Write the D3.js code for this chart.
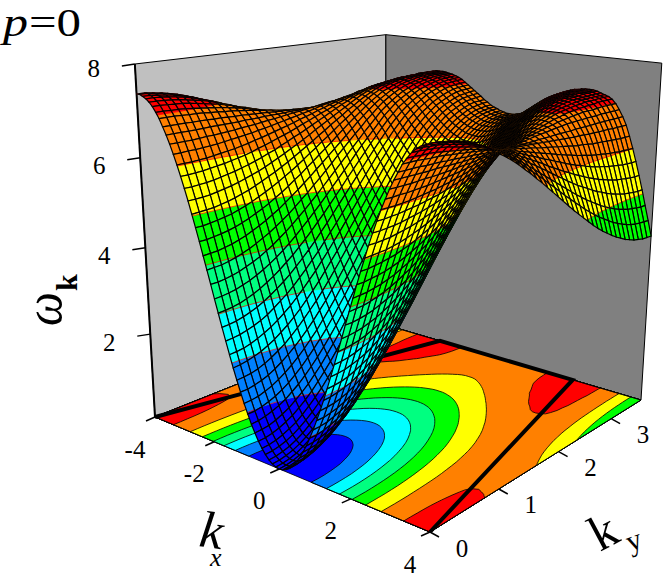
<!DOCTYPE html>
<html><head><meta charset="utf-8">
<script src="https://cdnjs.cloudflare.com/ajax/libs/d3/7.8.5/d3.min.js"></script>
<style>html,body{margin:0;padding:0;background:#fff}svg{display:block}text{font-family:"Liberation Serif",serif;fill:#000}</style>
</head><body><svg id="c" width="664" height="577"></svg>
<script>
// Height of the surface, one list per kx = 0, 0.1, ... 4 (the picture is mirror-symmetric in kx);
// each list runs over ky = 0 ... 3.63 in 40 steps.
const omegaByKx = [
[0,.01,.04,.09,.16,.25,.36,.49,.64,.80,.98,1.17,1.38,1.60,1.82,2.06,2.31,2.56,2.82,3.08,3.34,3.60,3.86,4.12,4.37,4.62,4.86,5.09,5.29,5.48,5.65,5.80,5.94,6.05,6.15,6.23,6.29,6.34,6.37,6.39,6.40],
[.01,.02,.05,.10,.18,.27,.38,.50,.65,.81,.99,1.18,1.39,1.61,1.83,2.07,2.32,2.57,2.83,3.09,3.35,3.61,3.87,4.13,4.38,4.63,4.86,5.09,5.30,5.49,5.66,5.81,5.94,6.05,6.15,6.23,6.29,6.34,6.37,6.39,6.40],
[.05,.06,.09,.14,.21,.30,.41,.54,.69,.85,1.02,1.22,1.42,1.64,1.86,2.10,2.35,2.60,2.85,3.11,3.37,3.63,3.89,4.15,4.40,4.65,4.88,5.11,5.32,5.51,5.67,5.82,5.95,6.07,6.16,6.24,6.30,6.35,6.39,6.41,6.42],
[.11,.12,.15,.20,.27,.36,.47,.60,.74,.90,1.08,1.27,1.47,1.69,1.92,2.15,2.39,2.64,2.90,3.16,3.42,3.67,3.93,4.19,4.44,4.68,4.92,5.14,5.35,5.54,5.70,5.85,5.98,6.09,6.19,6.27,6.33,6.38,6.41,6.43,6.44],
[.20,.21,.24,.29,.36,.45,.56,.68,.82,.98,1.16,1.35,1.55,1.76,1.99,2.22,2.46,2.71,2.96,3.22,3.47,3.73,3.98,4.24,4.48,4.73,4.96,5.18,5.39,5.58,5.74,5.89,6.02,6.13,6.22,6.31,6.37,6.42,6.45,6.47,6.48],
[.31,.32,.35,.40,.47,.55,.66,.79,.93,1.08,1.26,1.44,1.64,1.85,2.08,2.31,2.54,2.79,3.04,3.29,3.54,3.80,4.05,4.30,4.54,4.78,5.01,5.24,5.44,5.63,5.78,5.94,6.06,6.17,6.26,6.34,6.40,6.45,6.48,6.50,6.51],
[.44,.45,.48,.53,.60,.68,.79,.91,1.05,1.21,1.38,1.56,1.76,1.97,2.18,2.41,2.65,2.89,3.13,3.38,3.63,3.88,4.13,4.38,4.62,4.85,5.08,5.30,5.50,5.68,5.84,5.99,6.11,6.22,6.31,6.39,6.45,6.50,6.52,6.54,6.55],
[.60,.61,.63,.68,.75,.83,.94,1.06,1.19,1.35,1.51,1.70,1.89,2.09,2.31,2.53,2.76,3.00,3.24,3.49,3.73,3.98,4.22,4.47,4.70,4.93,5.16,5.37,5.57,5.75,5.91,6.05,6.17,6.28,6.37,6.44,6.51,6.55,6.58,6.60,6.61],
[.77,.78,.81,.86,.92,1.00,1.11,1.22,1.36,1.51,1.67,1.85,2.04,2.24,2.45,2.67,2.90,3.13,3.37,3.61,3.85,4.09,4.33,4.57,4.80,5.02,5.24,5.45,5.65,5.83,5.98,6.12,6.24,6.34,6.43,6.50,6.56,6.61,6.64,6.65,6.66],
[.97,.97,1.00,1.05,1.11,1.19,1.29,1.41,1.54,1.69,1.85,2.02,2.20,2.40,2.61,2.82,3.04,3.27,3.50,3.74,3.97,4.21,4.44,4.67,4.90,5.12,5.34,5.54,5.73,5.91,6.06,6.19,6.31,6.42,6.50,6.57,6.63,6.68,6.70,6.72,6.73],
[1.18,1.19,1.21,1.26,1.32,1.40,1.50,1.61,1.74,1.88,2.04,2.20,2.39,2.58,2.78,2.99,3.20,3.42,3.65,3.88,4.11,4.34,4.57,4.79,5.01,5.23,5.44,5.64,5.82,5.99,6.14,6.27,6.38,6.49,6.57,6.64,6.70,6.74,6.76,6.78,6.79],
[1.41,1.41,1.44,1.48,1.54,1.62,1.72,1.83,1.95,2.09,2.24,2.40,2.58,2.76,2.96,3.16,3.37,3.59,3.81,4.03,4.25,4.48,4.70,4.92,5.13,5.34,5.55,5.74,5.92,6.08,6.23,6.35,6.46,6.56,6.64,6.70,6.76,6.80,6.82,6.84,6.85],
[1.65,1.66,1.68,1.72,1.78,1.86,1.95,2.05,2.18,2.31,2.46,2.62,2.78,2.96,3.15,3.35,3.55,3.76,3.97,4.19,4.41,4.62,4.84,5.05,5.26,5.46,5.66,5.85,6.02,6.18,6.31,6.43,6.54,6.64,6.71,6.77,6.83,6.87,6.89,6.90,6.91],
[1.90,1.91,1.94,1.98,2.03,2.11,2.19,2.30,2.41,2.54,2.68,2.84,3.00,3.17,3.36,3.55,3.74,3.94,4.15,4.35,4.56,4.77,4.98,5.18,5.39,5.58,5.77,5.95,6.12,6.27,6.40,6.52,6.61,6.71,6.78,6.84,6.89,6.93,6.95,6.96,6.97],
[2.17,2.18,2.20,2.24,2.30,2.37,2.45,2.55,2.66,2.78,2.92,3.07,3.23,3.39,3.57,3.75,3.94,4.13,4.33,4.53,4.73,4.93,5.13,5.32,5.52,5.70,5.89,6.06,6.22,6.37,6.49,6.60,6.69,6.78,6.85,6.91,6.96,6.99,7.01,7.02,7.03],
[2.45,2.46,2.48,2.52,2.57,2.63,2.71,2.81,2.92,3.03,3.16,3.31,3.46,3.62,3.78,3.96,4.14,4.32,4.51,4.70,4.89,5.08,5.27,5.46,5.65,5.83,6.00,6.17,6.32,6.46,6.58,6.68,6.77,6.86,6.92,6.97,7.02,7.05,7.07,7.08,7.09],
[2.73,2.74,2.76,2.80,2.85,2.91,2.99,3.08,3.18,3.29,3.41,3.55,3.69,3.84,4.00,4.17,4.34,4.52,4.70,4.88,5.06,5.24,5.42,5.60,5.78,5.95,6.12,6.28,6.42,6.55,6.66,6.76,6.84,6.91,6.97,7.02,7.06,7.09,7.11,7.12,7.13],
[3.02,3.03,3.05,3.08,3.13,3.19,3.26,3.35,3.44,3.55,3.67,3.79,3.93,4.07,4.22,4.38,4.54,4.71,4.88,5.05,5.23,5.40,5.57,5.74,5.91,6.07,6.23,6.38,6.51,6.64,6.73,6.83,6.91,6.98,7.02,7.07,7.10,7.13,7.14,7.15,7.16],
[3.31,3.32,3.34,3.37,3.42,3.47,3.54,3.62,3.71,3.81,3.92,4.04,4.17,4.31,4.45,4.60,4.75,4.91,5.07,5.23,5.39,5.55,5.72,5.88,6.03,6.18,6.33,6.48,6.60,6.72,6.81,6.89,6.96,7.02,7.07,7.11,7.13,7.16,7.17,7.18,7.19],
[3.61,3.61,3.63,3.66,3.70,3.76,3.82,3.89,3.98,4.07,4.18,4.29,4.41,4.54,4.67,4.81,4.95,5.10,5.25,5.40,5.55,5.70,5.85,6.00,6.15,6.29,6.43,6.57,6.68,6.78,6.87,6.95,7.01,7.07,7.10,7.14,7.16,7.18,7.19,7.20,7.20],
[3.90,3.91,3.92,3.95,3.99,4.04,4.10,4.17,4.25,4.33,4.43,4.53,4.64,4.76,4.89,5.01,5.15,5.28,5.42,5.56,5.71,5.85,5.99,6.13,6.26,6.40,6.52,6.65,6.76,6.85,6.93,7.00,7.06,7.10,7.13,7.16,7.18,7.20,7.21,7.21,7.22],
[4.19,4.20,4.21,4.24,4.27,4.32,4.37,4.44,4.51,4.59,4.68,4.77,4.88,4.99,5.10,5.22,5.34,5.47,5.59,5.72,5.85,5.98,6.11,6.24,6.37,6.49,6.61,6.72,6.82,6.90,6.98,7.04,7.09,7.13,7.15,7.18,7.20,7.21,7.22,7.22,7.23],
[4.48,4.48,4.50,4.52,4.55,4.59,4.64,4.70,4.77,4.84,4.92,5.01,5.10,5.20,5.31,5.41,5.53,5.64,5.76,5.87,5.99,6.11,6.23,6.35,6.46,6.57,6.68,6.78,6.87,6.96,7.01,7.07,7.11,7.15,7.17,7.19,7.20,7.22,7.22,7.22,7.23],
[4.76,4.76,4.78,4.80,4.83,4.86,4.91,4.96,5.02,5.09,5.16,5.24,5.32,5.41,5.50,5.60,5.70,5.81,5.91,6.02,6.12,6.23,6.34,6.44,6.54,6.65,6.74,6.84,6.92,6.99,7.05,7.09,7.13,7.16,7.18,7.19,7.21,7.22,7.22,7.22,7.23],
[5.03,5.04,5.05,5.06,5.09,5.12,5.16,5.21,5.26,5.32,5.39,5.46,5.53,5.61,5.69,5.78,5.87,5.96,6.05,6.15,6.24,6.34,6.43,6.52,6.62,6.70,6.79,6.87,6.94,7.01,7.06,7.09,7.13,7.15,7.17,7.19,7.19,7.21,7.21,7.21,7.21],
[5.30,5.30,5.31,5.32,5.35,5.38,5.41,5.45,5.50,5.55,5.60,5.66,5.73,5.80,5.87,5.95,6.02,6.10,6.18,6.27,6.35,6.43,6.51,6.59,6.67,6.75,6.83,6.90,6.96,7.01,7.05,7.09,7.12,7.14,7.16,7.16,7.17,7.17,7.18,7.18,7.18],
[5.55,5.55,5.56,5.57,5.59,5.62,5.65,5.68,5.72,5.76,5.81,5.86,5.92,5.97,6.04,6.10,6.17,6.23,6.30,6.37,6.44,6.51,6.58,6.65,6.72,6.78,6.85,6.91,6.96,7.00,7.04,7.07,7.09,7.11,7.13,7.14,7.14,7.15,7.15,7.15,7.15],
[5.79,5.79,5.80,5.81,5.83,5.85,5.87,5.90,5.93,5.96,6.00,6.05,6.09,6.14,6.19,6.24,6.29,6.35,6.41,6.46,6.52,6.58,6.63,6.69,6.75,6.80,6.85,6.90,6.95,6.99,7.02,7.04,7.06,7.08,7.09,7.11,7.11,7.11,7.12,7.12,7.12],
[6.02,6.02,6.02,6.03,6.04,6.06,6.08,6.10,6.12,6.15,6.18,6.22,6.25,6.29,6.33,6.37,6.41,6.45,6.50,6.54,6.58,6.63,6.67,6.72,6.76,6.80,6.84,6.88,6.92,6.94,6.98,7.00,7.01,7.03,7.04,7.05,7.05,7.07,7.07,7.07,7.07],
[6.23,6.23,6.24,6.24,6.25,6.26,6.27,6.29,6.31,6.33,6.35,6.37,6.40,6.42,6.45,6.48,6.51,6.54,6.57,6.60,6.63,6.66,6.70,6.73,6.76,6.79,6.82,6.84,6.87,6.89,6.91,6.93,6.94,6.96,6.96,6.96,6.97,6.98,6.98,6.98,6.98],
[6.43,6.43,6.43,6.43,6.44,6.45,6.45,6.46,6.47,6.48,6.50,6.51,6.52,6.54,6.56,6.57,6.59,6.61,6.63,6.64,6.66,6.68,6.70,6.72,6.74,6.75,6.77,6.79,6.80,6.82,6.82,6.83,6.83,6.84,6.84,6.84,6.85,6.85,6.85,6.85,6.85],
[6.61,6.61,6.61,6.61,6.61,6.61,6.62,6.62,6.62,6.62,6.62,6.63,6.63,6.63,6.64,6.64,6.64,6.64,6.65,6.65,6.66,6.66,6.66,6.67,6.67,6.67,6.68,6.68,6.68,6.68,6.69,6.69,6.69,6.69,6.70,6.70,6.70,6.70,6.70,6.70,6.70],
[6.77,6.77,6.77,6.77,6.76,6.76,6.76,6.75,6.75,6.74,6.73,6.73,6.72,6.71,6.70,6.69,6.68,6.67,6.67,6.66,6.65,6.64,6.63,6.62,6.61,6.60,6.59,6.58,6.57,6.56,6.56,6.55,6.54,6.54,6.53,6.53,6.53,6.52,6.52,6.52,6.52],
[6.93,6.93,6.93,6.92,6.91,6.91,6.90,6.88,6.87,6.85,6.84,6.82,6.80,6.78,6.75,6.73,6.71,6.68,6.66,6.63,6.61,6.58,6.55,6.53,6.51,6.48,6.46,6.44,6.41,6.39,6.38,6.36,6.34,6.33,6.32,6.31,6.30,6.29,6.28,6.28,6.28],
[7.05,7.05,7.04,7.04,7.03,7.01,6.99,6.97,6.95,6.93,6.90,6.87,6.84,6.80,6.77,6.73,6.69,6.65,6.61,6.57,6.53,6.49,6.45,6.41,6.37,6.33,6.29,6.26,6.22,6.19,6.16,6.13,6.11,6.09,6.07,6.05,6.04,6.02,6.02,6.01,6.01],
[7.16,7.16,7.15,7.14,7.13,7.11,7.08,7.05,7.02,6.99,6.95,6.91,6.86,6.82,6.77,6.72,6.66,6.61,6.55,6.50,6.44,6.38,6.33,6.27,6.22,6.16,6.11,6.06,6.02,5.97,5.93,5.89,5.86,5.83,5.80,5.78,5.76,5.74,5.73,5.72,5.72],
[7.24,7.24,7.23,7.22,7.20,7.17,7.14,7.11,7.07,7.02,6.97,6.92,6.86,6.80,6.74,6.68,6.61,6.54,6.47,6.40,6.33,6.25,6.18,6.11,6.04,5.98,5.91,5.85,5.79,5.73,5.68,5.63,5.59,5.55,5.51,5.48,5.46,5.44,5.42,5.41,5.41],
[7.30,7.30,7.29,7.27,7.25,7.22,7.18,7.14,7.09,7.04,6.98,6.91,6.85,6.77,6.70,6.62,6.54,6.45,6.37,6.28,6.20,6.11,6.02,5.94,5.85,5.77,5.69,5.62,5.55,5.48,5.41,5.36,5.30,5.25,5.21,5.17,5.14,5.12,5.10,5.09,5.09],
[7.34,7.34,7.32,7.30,7.28,7.24,7.20,7.15,7.09,7.03,6.96,6.88,6.80,6.72,6.63,6.54,6.44,6.34,6.24,6.14,6.04,5.94,5.84,5.74,5.64,5.54,5.45,5.36,5.28,5.20,5.12,5.05,4.99,4.93,4.88,4.84,4.80,4.78,4.76,4.74,4.74],
[7.37,7.37,7.35,7.33,7.30,7.26,7.21,7.15,7.09,7.01,6.94,6.85,6.76,6.66,6.56,6.45,6.34,6.23,6.12,6.00,5.89,5.77,5.65,5.54,5.43,5.32,5.21,5.11,5.01,4.92,4.84,4.76,4.68,4.62,4.56,4.51,4.47,4.44,4.42,4.41,4.40],
[7.37,7.37,7.35,7.32,7.29,7.24,7.19,7.13,7.05,6.97,6.88,6.79,6.69,6.58,6.46,6.35,6.22,6.10,5.97,5.84,5.71,5.58,5.45,5.32,5.20,5.08,4.96,4.84,4.73,4.63,4.54,4.45,4.37,4.30,4.23,4.18,4.13,4.10,4.07,4.06,4.05]
];
const bandLevels = [1,2,3,4,5,6,7];
const bandColors = ["#0000ff","#0080ff","#00ffff","#00ff80","#00ff00","#ffff00","#ff8000","#ff0000"];
const kxTicks = [-4,-2,0,2,4];
const kyTicks = [0,1,2,3];
const zTicks = [2,4,6,8];
const kyMax = 3.63;
const zoneKx = [-4,-2.09,2.09,4];
const zoneKy = [0,kyMax,kyMax,0];

const svg = d3.select("#c");
const uScale = d3.scaleLinear([-4,4],[0,1]);
const vScale = d3.scaleLinear([0,kyMax],[0,1]);
const wScale = d3.scaleLinear([0,8],[0,1]);

// Perspective camera, calibrated on the box corners.
const A=[155,417],B=[430,532],C=[641,400],D=[386,325],Atop=[136,64],nadir=[388,4500];
const dx1=B[0]-C[0],dx2=D[0]-C[0],sx=A[0]-B[0]+C[0]-D[0];
const dy1=B[1]-C[1],dy2=D[1]-C[1],sy=A[1]-B[1]+C[1]-D[1];
const den=dx1*dy2-dx2*dy1;
const g=(sx*dy2-dx2*sy)/den,h=(dx1*sy-sx*dy1)/den;
const a=B[0]-A[0]+g*B[0],b=D[0]-A[0]+h*D[0],c0=A[0];
const d=B[1]-A[1]+g*B[1],e=D[1]-A[1]+h*D[1],f0=A[1];
const s=(A[1]-Atop[1])/(Atop[1]-nadir[1]);
function proj(kx,ky,z){
  const u=uScale(kx),v=vScale(ky),w=wScale(z);
  const W=g*u+h*v+1+s*w;
  return [(a*u+b*v+c0+s*w*nadir[0])/W,(d*u+e*v+f0+s*w*nadir[1])/W];
}
const lineGen=d3.line();
const closed=pts=>lineGen(pts)+"Z";

const NX=80,NY=40,HX=40;
const kxIdx=d3.scaleLinear([0,NX],[-4,4]);
const kyIdx=d3.scaleLinear([0,NY],[0,kyMax]);
const zAt=(i,j)=>omegaByKx[Math.abs(i-HX)][j];

// Walls
const P=(x,y,z)=>proj(x,y,z),pi=kyMax;
svg.append("path").attr("d",closed([P(-4,0,0),P(-4,pi,0),P(-4,pi,8),P(-4,0,8)])).attr("fill","#c0c0c0").attr("stroke","#000").attr("stroke-width",1);
svg.append("path").attr("d",closed([P(-4,pi,0),P(4,pi,0),P(4,pi,8),P(-4,pi,8)])).attr("fill","#808080").attr("stroke","#000").attr("stroke-width",1);
svg.append("path").attr("d",lineGen([P(-4,0,0),P(-4,0,8)])).attr("stroke","#000").attr("stroke-width",2).attr("fill","none");

// Floor contours
const flat=[];for(let j=0;j<=NY;j++)for(let i=0;i<=NX;i++)flat.push(zAt(i,j));
svg.append("path").attr("d",closed([P(-4,0,0),P(4,0,0),P(4,pi,0),P(-4,pi,0)])).attr("fill",bandColors[0]);
const contours=d3.contours().size([NX+1,NY+1]).thresholds(bandLevels)(flat);
const clampI=v=>Math.max(0,Math.min(NX,v-.5)),clampJ=v=>Math.max(0,Math.min(NY,v-.5));
contours.forEach((ct,k)=>{
  let dStr="";
  ct.coordinates.forEach(poly=>poly.forEach(ring=>{
    dStr+=closed(ring.map(p=>P(kxIdx(clampI(p[0])),kyIdx(clampJ(p[1])),0)));
  }));
  svg.append("path").attr("d",dStr).attr("fill",bandColors[k+1]).attr("fill-rule","evenodd").attr("stroke","#000").attr("stroke-width",.8);
});
svg.append("path").attr("d",closed([P(-4,0,0),P(4,0,0),P(4,pi,0),P(-4,pi,0)])).attr("fill","none").attr("stroke","#000").attr("stroke-width",.8);
svg.append("path").attr("d",lineGen(zoneKx.map((x,i)=>P(x,zoneKy[i],0)))).attr("fill","none").attr("stroke","#000").attr("stroke-width",4);

// Axis ticks
const tick=(p,dx,dy,w)=>svg.append("line").attr("x1",p[0]).attr("y1",p[1]).attr("x2",p[0]+dx).attr("y2",p[1]+dy).attr("stroke","#000").attr("stroke-width",w||1.5);
const label=(t,x,y,fs)=>svg.append("text").attr("x",x).attr("y",y).attr("text-anchor","middle").attr("dominant-baseline","central").attr("font-size",fs||25).text(t);
zTicks.forEach(z=>{const p=P(-4,0,z);tick(p,-13,2);label(z,p[0]-41,p[1]+(z==8?4:8));});
kxTicks.forEach(k=>{const p=P(k,0,0);tick(p,-9,4);label(k,p[0]-20,p[1]+32);});
kyTicks.forEach(k=>{const p=P(4,k,0);tick(p,9,5);label(k,p[0]+32,p[1]+16);});

// Surface, painted from far to near
const gS=svg.append("g");
function clip(poly,lo,hi){
  const cut=(pl,keep,L)=>{const o=[];pl.forEach((p,n)=>{const q=pl[(n+1)%pl.length];const pi_=keep(p[2]),qi=keep(q[2]);
    if(pi_)o.push(p);
    if(pi_!==qi){const t=(L-p[2])/(q[2]-p[2]);o.push([p[0]+t*(q[0]-p[0]),p[1]+t*(q[1]-p[1]),L]);}});return o;};
  let r=cut(poly,z=>z>=lo,lo);if(r.length)r=cut(r,z=>z<=hi,hi);return r;
}
const toScreen=p=>proj(p[0],p[1],p[2]);
for(let i=0;i<NX;i++)for(let j=NY-1;j>=0;j--){
  const q=[[i,j],[i+1,j],[i+1,j+1],[i,j+1]].map(([m,n])=>[kxIdx(m),kyIdx(n),zAt(m,n)]);
  const zs=q.map(p=>p[2]),lo=d3.min(zs),hi=d3.max(zs);
  [0].concat(bandLevels).forEach((L,k)=>{
    const top=L+1;if(top<lo||L>hi)return;
    const piece=clip(q,L,top);if(piece.length<3)return;
    gS.append("path").attr("d",closed(piece.map(toScreen))).attr("fill",bandColors[k]).attr("stroke",bandColors[k]).attr("stroke-width",.3);
  });
  bandLevels.forEach(L=>{if(L<=lo||L>=hi)return;
    const pts=[];q.forEach((p,n)=>{const r=q[(n+1)%4];if((p[2]-L)*(r[2]-L)<0){const t=(L-p[2])/(r[2]-p[2]);pts.push([p[0]+t*(r[0]-p[0]),p[1]+t*(r[1]-p[1]),L]);}});
    if(pts.length>=2)gS.append("path").attr("d",lineGen(pts.slice(0,2).map(toScreen))).attr("stroke","#ff0000").attr("stroke-width",.7).attr("fill","none");
  });
  gS.append("path").attr("d",closed(q.map(toScreen))).attr("fill","none").attr("stroke","#000").attr("stroke-width",1.2);
}

// Titles
svg.append("text").attr("x",3).attr("y",36).attr("font-size",40).attr("font-style","italic").attr("textLength",25).attr("lengthAdjust","spacingAndGlyphs").text("p");
svg.append("text").attr("x",29).attr("y",36).attr("font-size",40).attr("textLength",52).attr("lengthAdjust","spacingAndGlyphs").text("=0");
const wk=svg.append("g").attr("transform","translate(61,326) rotate(-90)");
wk.append("text").attr("font-size",52).attr("font-style","italic").attr("transform","scale(.92,1)").text("ω");
wk.append("text").attr("x",35).attr("y",16).attr("font-size",30).attr("font-weight","bold").text("k");
svg.append("text").attr("transform","translate(198,546) rotate(8)").attr("font-size",52).attr("font-style","italic").text("k");
svg.append("text").attr("transform","translate(210,566)").attr("font-size",26).attr("font-style","italic").text("x");
svg.append("text").attr("transform","translate(600,552) rotate(-28)").attr("font-size",50).text("k");
svg.append("text").attr("transform","translate(630,552) rotate(-20)").attr("font-size",30).text("y");
</script></body></html>
